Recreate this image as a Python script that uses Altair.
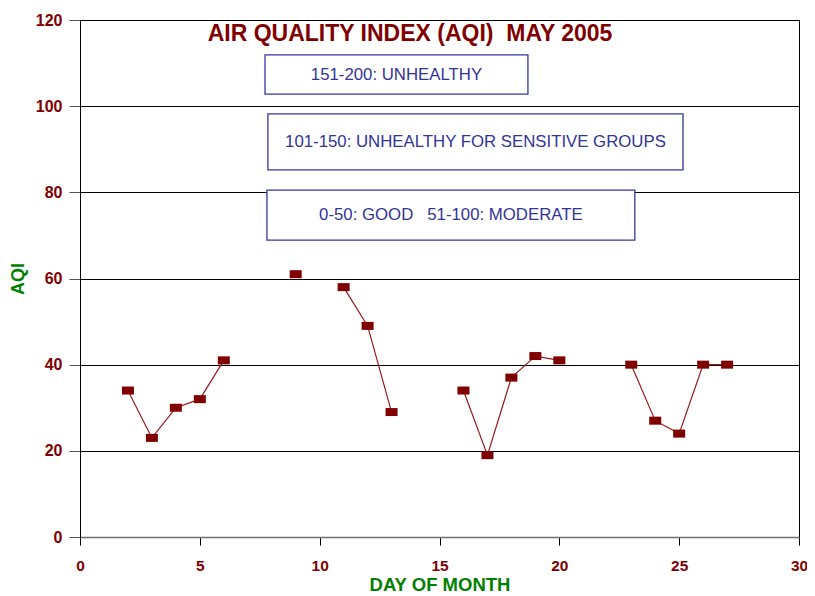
import altair as alt
import pandas as pd

# Data
days = [2, 3, 4, 5, 6, 9, 11, 12, 13, 16, 17, 18, 19, 20, 23, 24, 25, 26, 27]
aqi = [34, 23, 30, 32, 41, 61, 58, 49, 29, 34, 19, 37, 42, 41, 40, 27, 24, 40, 40]

NB = "\u00a0"
# Legend boxes (in data coordinates)
box_text = ["151-200: UNHEALTHY",
            "101-150: UNHEALTHY FOR SENSITIVE GROUPS",
            "0-50: GOOD" + NB * 3 + "51-100: MODERATE"]
box_x1 = [7.72, 7.84, 7.80]
box_x2 = [18.69, 25.16, 23.15]
box_y1 = [111.9, 98.2, 80.5]
box_y2 = [102.8, 85.2, 68.9]
title_text = "AIR QUALITY INDEX (AQI)" + NB * 2 + "MAY 2005"

# segment ids: a new segment starts after a gap in days
seg = []
s = 0
for i, d in enumerate(days):
    if i > 0 and d - days[i - 1] > 1:
        s += 1
    seg.append(s)

df = pd.DataFrame({"day": days, "aqi": aqi, "seg": seg})
boxes = pd.DataFrame({"t": box_text, "x1": box_x1, "x2": box_x2,
                      "y1": box_y1, "y2": box_y2})
boxes["xc"] = (boxes.x1 + boxes.x2) / 2
boxes["yc"] = (boxes.y1 + boxes.y2) / 2

FONT = "Liberation Sans"
DARKRED = "#800000"
GREEN = "#008000"
BLUE = "#333399"

xscale = alt.Scale(domain=[0, 30], nice=False, zero=True)
yscale = alt.Scale(domain=[0, 120], nice=False)

xaxis = alt.Axis(values=[0, 5, 10, 15, 20, 25, 30], grid=False, tickSize=8,
                 tickColor="black", domainColor="#707070", domainWidth=1.5,
                 labelColor=DARKRED, labelFont=FONT, labelFontWeight="bold",
                 labelFontSize=15.5, labelPadding=13, labelFlush=False,
                 title="DAY OF MONTH", titleColor=GREEN, titleFont=FONT,
                 titleFontWeight="bold", titleFontSize=18.5, titlePadding=2)
yaxis = alt.Axis(values=[0, 20, 40, 60, 80, 100, 120], grid=True,
                 gridColor="black", gridOpacity=1, gridWidth=1,
                 tickSize=11, tickColor="#555555", domainColor="black",
                 labelColor=DARKRED, labelFont=FONT, labelFontWeight="bold",
                 labelFontSize=16, labelPadding=7, labelFlush=False,
                 title="AQI", titleColor=GREEN, titleFont=FONT,
                 titleFontWeight="bold", titleFontSize=18, titlePadding=8)

base = alt.Chart(df)

line = base.mark_line(color="#9a1a1a", strokeWidth=1.2).encode(
    x=alt.X("day:Q", scale=xscale, axis=xaxis),
    y=alt.Y("aqi:Q", scale=yscale, axis=yaxis),
    detail="seg:N",
    order="day:Q",
)

pts = base.mark_point(shape="M-1.5,-1H1.5V1H-1.5Z", filled=True, size=64,
                      color=DARKRED, opacity=1).encode(
    x=alt.X("day:Q", scale=xscale),
    y=alt.Y("aqi:Q", scale=yscale),
)

rects = alt.Chart(boxes).mark_rect(fill="white", stroke="#3535a5",
                                   strokeWidth=1.3).encode(
    x=alt.X("x1:Q", scale=xscale), x2="x2:Q",
    y=alt.Y("y1:Q", scale=yscale), y2="y2:Q",
)

texts = alt.Chart(boxes).mark_text(font=FONT, fontSize=16.8, color=BLUE,
                                   baseline="middle", align="center").encode(
    x=alt.X("xc:Q", scale=xscale),
    y=alt.Y("yc:Q", scale=yscale),
    text="t:N",
)

title = alt.Chart(pd.DataFrame({"t": [title_text]})).mark_text(
    font=FONT, fontSize=23, fontWeight="bold", color=DARKRED,
    align="center", baseline="middle").encode(
    x=alt.value(330), y=alt.value(14), text="t:N")

chart = alt.layer(line, pts, rects, texts, title).properties(
    width=719, height=517,
    autosize=alt.AutoSizeParams(type="none"),
    padding={"left": 72, "top": 12, "right": 8, "bottom": 64},
).configure_view(stroke="black", strokeWidth=1)

chart.save("out.html", embed_options={"renderer": "svg", "actions": False})
